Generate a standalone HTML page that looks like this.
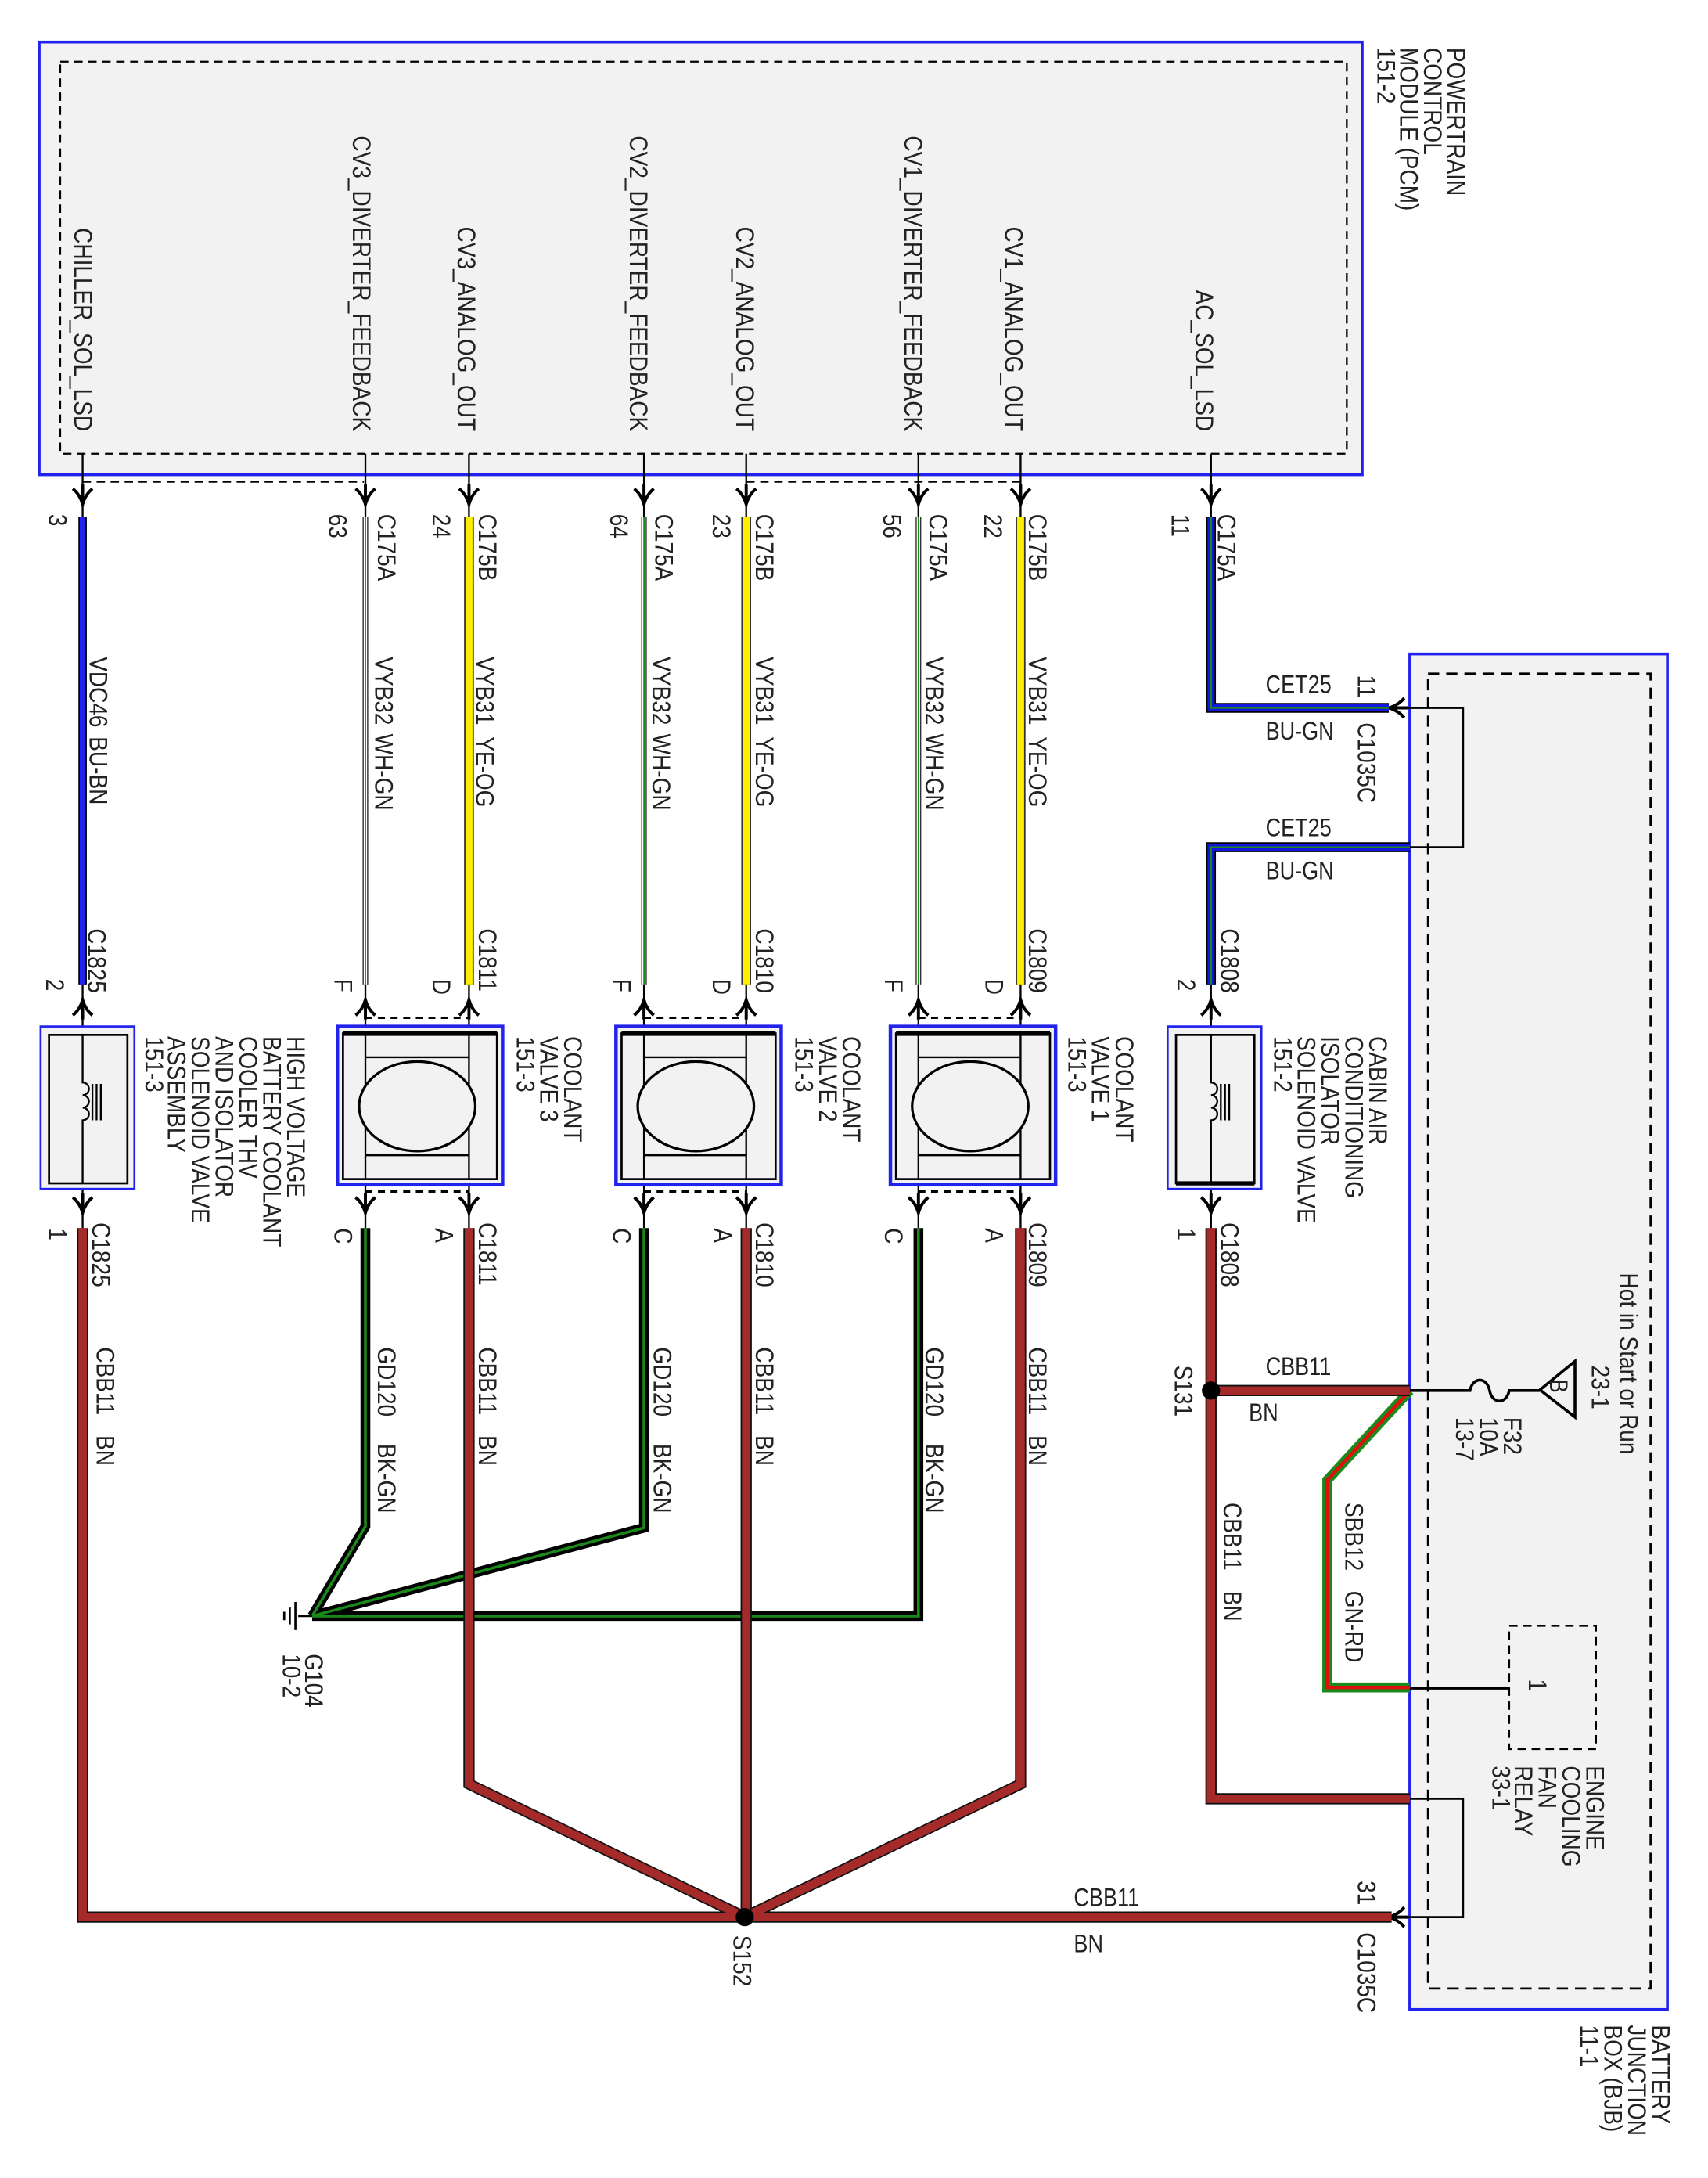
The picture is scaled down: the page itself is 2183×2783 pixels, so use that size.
<!DOCTYPE html>
<html><head><meta charset="utf-8"><style>
html,body{margin:0;padding:0;background:#fff}
svg{display:block}
text{font-family:"Liberation Sans",sans-serif;font-size:18px;fill:#222}
</style></head><body>
<svg width="2183" height="2783" viewBox="0 0 1220 1555.3" xmlns="http://www.w3.org/2000/svg">
<defs>
<g id="ad"><path d="M-7,-11 Q-2,-7 0,0 Q2,-7 7,-11 M0,-14 L0,0" fill="none" stroke="#000" stroke-width="2.2"/></g>
<g id="au"><path d="M-7,11 Q-2,7 0,0 Q2,7 7,11 M0,14 L0,0" fill="none" stroke="#000" stroke-width="2.2"/></g>
<g id="al"><path d="M11,-7 Q7,-2 0,0 Q7,2 11,7 M14,0 L0,0" fill="none" stroke="#000" stroke-width="2.2"/></g>
</defs>

<!-- PCM -->
<rect x="28" y="30" width="945" height="309" fill="#f2f2f2" stroke="#2222ee" stroke-width="2"/>
<rect x="43" y="44" width="919" height="280" fill="none" stroke="#000" stroke-width="1.3" stroke-dasharray="6,4"/>
<path d="M59,344 H260 M533,344 H729" stroke="#000" stroke-width="1.3" stroke-dasharray="6,4"/>
<!-- pin stubs -->
<g stroke="#000" stroke-width="1.3">
<path d="M59,324V369M261,324V369M335,324V369M460,324V369M533,324V369M656,324V369M729,324V369M865,324V369"/>
</g>
<use href="#ad" x="59" y="360"/><use href="#ad" x="261" y="360"/><use href="#ad" x="335" y="360"/>
<use href="#ad" x="460" y="360"/><use href="#ad" x="533" y="360"/><use href="#ad" x="656" y="360"/>
<use href="#ad" x="729" y="360"/><use href="#ad" x="865" y="360"/>

<!-- BJB -->
<rect x="1007" y="467" width="184" height="968" fill="#f2f2f2" stroke="#2222ee" stroke-width="2"/>
<rect x="1020" y="481" width="159" height="939" fill="none" stroke="#000" stroke-width="1.5" stroke-dasharray="8,5"/>
<path d="M992,505.5H1045V605H1007M992,1369H1045V1284.5H1007" fill="none" stroke="#000" stroke-width="1.5"/>
<use href="#al" x="992" y="505.5"/><use href="#al" x="992" y="1369"/>

<!-- top wires -->
<g fill="none">
<path d="M59,369V703" stroke="#000" stroke-width="6"/><path d="M59,369V703" stroke="#2222ee" stroke-width="4"/>
<path d="M261,369V703M460,369V703M656,369V703" stroke="#333" stroke-width="4"/>
<path d="M261,369V703M460,369V703M656,369V703" stroke="#fff" stroke-width="2.4"/>
<path d="M261,369V703M460,369V703M656,369V703" stroke="#1a8a1a" stroke-width="1"/>
<path d="M335,369V703M533,369V703M729,369V703" stroke="#333" stroke-width="7"/>
<path d="M335,369V703M533,369V703M729,369V703" stroke="#ffee00" stroke-width="5"/>
<path d="M865,369V505.5H992M1007,605H865V703" stroke="#000" stroke-width="7"/>
<path d="M865,369V505.5H992M1007,605H865V703" stroke="#1515e0" stroke-width="5"/>
<path d="M865,369V505.5H992M1007,605H865V703" stroke="#1a8a1a" stroke-width="1.2"/>
</g>

<!-- valve pin lines and arrows -->
<g stroke="#000" stroke-width="1.3">
<path d="M59,703V877M261,703V877M335,703V877M460,703V877M533,703V877M656,703V877M729,703V877M865,703V877"/>
</g>
<g>
<use href="#au" x="59" y="714"/><use href="#au" x="261" y="714"/><use href="#au" x="335" y="714"/>
<use href="#au" x="460" y="714"/><use href="#au" x="533" y="714"/><use href="#au" x="656" y="714"/>
<use href="#au" x="729" y="714"/><use href="#au" x="865" y="714"/>
<use href="#ad" x="59" y="866"/><use href="#ad" x="261" y="866"/><use href="#ad" x="335" y="866"/>
<use href="#ad" x="460" y="866"/><use href="#ad" x="533" y="866"/><use href="#ad" x="656" y="866"/>
<use href="#ad" x="729" y="866"/><use href="#ad" x="865" y="866"/>
</g>
<path d="M261,727H335M460,727H533M656,727H729" stroke="#000" stroke-width="1.3" stroke-dasharray="5,4"/>
<path d="M261,851H335M460,851H533M656,851H729" stroke="#000" stroke-width="2.5" stroke-dasharray="5,4"/>

<!-- solenoid boxes -->
<g>
<rect x="29" y="733" width="67" height="116" fill="#f2f2f2" stroke="#2222ee" stroke-width="1.5"/>
<rect x="35" y="739" width="56" height="106" fill="#f2f2f2" stroke="#000" stroke-width="1.5"/>
<path d="M59,739V773a4.5,4.5 0 0 1 0,9a4.5,4.5 0 0 1 0,9a4.5,4.5 0 0 1 0,9V845M66,774V800M69,774V800M72,774V800" fill="none" stroke="#000" stroke-width="1.3"/>
<rect x="834" y="733" width="67" height="116" fill="#f2f2f2" stroke="#2222ee" stroke-width="1.5"/>
<rect x="840" y="739" width="56" height="106" fill="#f2f2f2" stroke="#000" stroke-width="1.5"/>
<path d="M840,845H896" stroke="#000" stroke-width="3"/>
<path d="M865,739V773a4.5,4.5 0 0 1 0,9a4.5,4.5 0 0 1 0,9a4.5,4.5 0 0 1 0,9V845M872,774V800M875,774V800M878,774V800" fill="none" stroke="#000" stroke-width="1.3"/>
</g>
<!-- coolant valves -->
<g id="v3">
<rect x="241" y="733" width="118" height="113" fill="#f2f2f2" stroke="#2222ee" stroke-width="2.5"/>
<rect x="245" y="738" width="110" height="104" fill="#f2f2f2" stroke="#000" stroke-width="1.5"/>
<path d="M245,738H355" stroke="#000" stroke-width="3.5"/>
<path d="M261,755H335M261,825H335M261,738V842M335,738V842" stroke="#000" stroke-width="1.3"/>
<ellipse cx="298" cy="790" rx="41.5" ry="32" fill="#f2f2f2" stroke="#000" stroke-width="1.8"/>
</g>
<g transform="translate(199,0)">
<rect x="241" y="733" width="118" height="113" fill="#f2f2f2" stroke="#2222ee" stroke-width="2.5"/>
<rect x="245" y="738" width="110" height="104" fill="#f2f2f2" stroke="#000" stroke-width="1.5"/>
<path d="M245,738H355" stroke="#000" stroke-width="3.5"/>
<path d="M261,755H334M261,825H334M261,738V842M334,738V842" stroke="#000" stroke-width="1.3"/>
<ellipse cx="298" cy="790" rx="41.5" ry="32" fill="#f2f2f2" stroke="#000" stroke-width="1.8"/>
</g>
<g transform="translate(395,0)">
<rect x="241" y="733" width="118" height="113" fill="#f2f2f2" stroke="#2222ee" stroke-width="2.5"/>
<rect x="245" y="738" width="110" height="104" fill="#f2f2f2" stroke="#000" stroke-width="1.5"/>
<path d="M245,738H355" stroke="#000" stroke-width="3.5"/>
<path d="M261,755H334M261,825H334M261,738V842M334,738V842" stroke="#000" stroke-width="1.3"/>
<ellipse cx="298" cy="790" rx="41.5" ry="32" fill="#f2f2f2" stroke="#000" stroke-width="1.8"/>
</g>

<!-- bottom wires -->
<g fill="none" stroke-linejoin="miter">
<path d="M261,877V1090L223,1154M460,877V1091L223,1154M656,877V1154H223" stroke="#000" stroke-width="7"/>
<path d="M261,877V1090L223,1154M460,877V1091L223,1154M656,877V1154H223" stroke="#1a8a1a" stroke-width="2"/>
<path d="M1007,993L948,1057V1205H1007" stroke="#1a8a1a" stroke-width="7"/>
<path d="M1007,993L948,1057V1205H1007" stroke="#e01010" stroke-width="2.5"/>
<path d="M59,877V1369H994M335,877V1274L532,1369L729,1274V877M533,877V1369M865,877V1284.5H1007M865,993H1007" stroke="#111" stroke-width="8"/>
<path d="M59,877V1369H994M335,877V1274L532,1369L729,1274V877M533,877V1369M865,877V1284.5H1007M865,993H1007" stroke="#a52a2a" stroke-width="6"/>
</g>
<circle cx="532" cy="1369" r="6.5" fill="#000"/>
<circle cx="865" cy="993" r="6.5" fill="#000"/>
<!-- ground -->
<path d="M223,1154H213M211,1144V1164M207,1148V1160M203,1151V1157" stroke="#000" stroke-width="1.5"/>
<!-- fuse & power -->
<path d="M1007,993H1050c2,-10 12,-10 14,0c2,10 12,10 14,0H1100" fill="none" stroke="#000" stroke-width="2"/>
<path d="M1100,992.5L1125,972V1012Z" fill="none" stroke="#000" stroke-width="2"/>
<path d="M1007,1205.5H1078" stroke="#000" stroke-width="2"/>
<rect x="1078" y="1161" width="62" height="88" fill="none" stroke="#000" stroke-width="1.3" stroke-dasharray="6,4"/>

<!-- rotated labels -->
<g>
<text transform="translate(1034,34) rotate(90) scale(.87 1)">POWERTRAIN</text>
<text transform="translate(1017,34) rotate(90) scale(.87 1)">CONTROL</text>
<text transform="translate(1000,34) rotate(90) scale(.87 1)">MODULE (PCM)</text>
<text transform="translate(984,34) rotate(90) scale(.87 1)">151-2</text>

<g text-anchor="end">
<text transform="translate(53,308) rotate(90) scale(.87 1)">CHILLER_SOL_LSD</text>
<text transform="translate(252,308) rotate(90) scale(.87 1)">CV3_DIVERTER_FEEDBACK</text>
<text transform="translate(327,308) rotate(90) scale(.87 1)">CV3_ANALOG_OUT</text>
<text transform="translate(450,308) rotate(90) scale(.87 1)">CV2_DIVERTER_FEEDBACK</text>
<text transform="translate(526,308) rotate(90) scale(.87 1)">CV2_ANALOG_OUT</text>
<text transform="translate(646,308) rotate(90) scale(.87 1)">CV1_DIVERTER_FEEDBACK</text>
<text transform="translate(718,308) rotate(90) scale(.87 1)">CV1_ANALOG_OUT</text>
<text transform="translate(854,308) rotate(90) scale(.87 1)">AC_SOL_LSD</text>
</g>

<text transform="translate(35,367) rotate(90) scale(.87 1)">3</text>
<text transform="translate(235,367) rotate(90) scale(.87 1)">63</text>
<text transform="translate(270,367) rotate(90) scale(.87 1)">C175A</text>
<text transform="translate(309,367) rotate(90) scale(.87 1)">24</text>
<text transform="translate(342,367) rotate(90) scale(.87 1)">C175B</text>
<text transform="translate(436,367) rotate(90) scale(.87 1)">64</text>
<text transform="translate(468,367) rotate(90) scale(.87 1)">C175A</text>
<text transform="translate(509,367) rotate(90) scale(.87 1)">23</text>
<text transform="translate(540,367) rotate(90) scale(.87 1)">C175B</text>
<text transform="translate(631,367) rotate(90) scale(.87 1)">56</text>
<text transform="translate(664,367) rotate(90) scale(.87 1)">C175A</text>
<text transform="translate(703,367) rotate(90) scale(.87 1)">22</text>
<text transform="translate(735,367) rotate(90) scale(.87 1)">C175B</text>
<text transform="translate(837,367) rotate(90) scale(.87 1)">11</text>
<text transform="translate(870,367) rotate(90) scale(.87 1)">C175A</text>

<text transform="translate(64,469) rotate(90) scale(.87 1)">VDC46</text>
<text transform="translate(64,526) rotate(90) scale(.87 1)">BU-BN</text>
<text transform="translate(268,469) rotate(90) scale(.87 1)">VYB32</text>
<text transform="translate(268,524) rotate(90) scale(.87 1)">WH-GN</text>
<text transform="translate(340,469) rotate(90) scale(.87 1)">VYB31</text>
<text transform="translate(340,526) rotate(90) scale(.87 1)">YE-OG</text>
<text transform="translate(466,469) rotate(90) scale(.87 1)">VYB32</text>
<text transform="translate(466,524) rotate(90) scale(.87 1)">WH-GN</text>
<text transform="translate(540,469) rotate(90) scale(.87 1)">VYB31</text>
<text transform="translate(540,526) rotate(90) scale(.87 1)">YE-OG</text>
<text transform="translate(661,469) rotate(90) scale(.87 1)">VYB32</text>
<text transform="translate(661,524) rotate(90) scale(.87 1)">WH-GN</text>
<text transform="translate(735,469) rotate(90) scale(.87 1)">VYB31</text>
<text transform="translate(735,526) rotate(90) scale(.87 1)">YE-OG</text>

<text transform="translate(970,482) rotate(90) scale(.87 1)">11</text>
<text transform="translate(970,516) rotate(90) scale(.87 1)">C1035C</text>

<text transform="translate(33,699) rotate(90) scale(.87 1)">2</text>
<text transform="translate(63,663) rotate(90) scale(.87 1)">C1825</text>
<text transform="translate(239,699) rotate(90) scale(.87 1)">F</text>
<text transform="translate(309,699) rotate(90) scale(.87 1)">D</text>
<text transform="translate(342,663) rotate(90) scale(.87 1)">C1811</text>
<text transform="translate(438,699) rotate(90) scale(.87 1)">F</text>
<text transform="translate(509,699) rotate(90) scale(.87 1)">D</text>
<text transform="translate(540,663) rotate(90) scale(.87 1)">C1810</text>
<text transform="translate(632,699) rotate(90) scale(.87 1)">F</text>
<text transform="translate(704,699) rotate(90) scale(.87 1)">D</text>
<text transform="translate(735,663) rotate(90) scale(.87 1)">C1809</text>
<text transform="translate(841,699) rotate(90) scale(.87 1)">2</text>
<text transform="translate(872,663) rotate(90) scale(.87 1)">C1808</text>

<text transform="translate(205,740) rotate(90) scale(.87 1)">HIGH VOLTAGE</text>
<text transform="translate(188,740) rotate(90) scale(.87 1)">BATTERY COOLANT</text>
<text transform="translate(171,740) rotate(90) scale(.87 1)">COOLER THV</text>
<text transform="translate(154,740) rotate(90) scale(.87 1)">AND ISOLATOR</text>
<text transform="translate(137,740) rotate(90) scale(.87 1)">SOLENOID VALVE</text>
<text transform="translate(120,740) rotate(90) scale(.87 1)">ASSEMBLY</text>
<text transform="translate(104,740) rotate(90) scale(.87 1)">151-3</text>

<text transform="translate(403,740) rotate(90) scale(.87 1)">COOLANT</text>
<text transform="translate(386,740) rotate(90) scale(.87 1)">VALVE 3</text>
<text transform="translate(369,740) rotate(90) scale(.87 1)">151-3</text>
<text transform="translate(602,740) rotate(90) scale(.87 1)">COOLANT</text>
<text transform="translate(585,740) rotate(90) scale(.87 1)">VALVE 2</text>
<text transform="translate(568,740) rotate(90) scale(.87 1)">151-3</text>
<text transform="translate(797,740) rotate(90) scale(.87 1)">COOLANT</text>
<text transform="translate(780,740) rotate(90) scale(.87 1)">VALVE 1</text>
<text transform="translate(763,740) rotate(90) scale(.87 1)">151-3</text>

<text transform="translate(978,740) rotate(90) scale(.87 1)">CABIN AIR</text>
<text transform="translate(961,740) rotate(90) scale(.87 1)">CONDITIONING</text>
<text transform="translate(944,740) rotate(90) scale(.87 1)">ISOLATOR</text>
<text transform="translate(927,740) rotate(90) scale(.87 1)">SOLENOID VALVE</text>
<text transform="translate(910,740) rotate(90) scale(.87 1)">151-2</text>

<text transform="translate(35,877) rotate(90) scale(.87 1)">1</text>
<text transform="translate(66,873) rotate(90) scale(.87 1)">C1825</text>
<text transform="translate(239,877) rotate(90) scale(.87 1)">C</text>
<text transform="translate(311,877) rotate(90) scale(.87 1)">A</text>
<text transform="translate(342,873) rotate(90) scale(.87 1)">C1811</text>
<text transform="translate(438,877) rotate(90) scale(.87 1)">C</text>
<text transform="translate(510,877) rotate(90) scale(.87 1)">A</text>
<text transform="translate(540,873) rotate(90) scale(.87 1)">C1810</text>
<text transform="translate(632,877) rotate(90) scale(.87 1)">C</text>
<text transform="translate(704,877) rotate(90) scale(.87 1)">A</text>
<text transform="translate(735,873) rotate(90) scale(.87 1)">C1809</text>
<text transform="translate(841,877) rotate(90) scale(.87 1)">1</text>
<text transform="translate(872,873) rotate(90) scale(.87 1)">C1808</text>

<text transform="translate(69,962) rotate(90) scale(.87 1)">CBB11</text>
<text transform="translate(69,1025) rotate(90) scale(.87 1)">BN</text>
<text transform="translate(270,962) rotate(90) scale(.87 1)">GD120</text>
<text transform="translate(270,1031) rotate(90) scale(.87 1)">BK-GN</text>
<text transform="translate(342,962) rotate(90) scale(.87 1)">CBB11</text>
<text transform="translate(342,1025) rotate(90) scale(.87 1)">BN</text>
<text transform="translate(467,962) rotate(90) scale(.87 1)">GD120</text>
<text transform="translate(467,1031) rotate(90) scale(.87 1)">BK-GN</text>
<text transform="translate(540,962) rotate(90) scale(.87 1)">CBB11</text>
<text transform="translate(540,1025) rotate(90) scale(.87 1)">BN</text>
<text transform="translate(661,962) rotate(90) scale(.87 1)">GD120</text>
<text transform="translate(661,1031) rotate(90) scale(.87 1)">BK-GN</text>
<text transform="translate(735,962) rotate(90) scale(.87 1)">CBB11</text>
<text transform="translate(735,1025) rotate(90) scale(.87 1)">BN</text>

<text transform="translate(839,975) rotate(90) scale(.87 1)">S131</text>
<text transform="translate(874,1073) rotate(90) scale(.87 1)">CBB11</text>
<text transform="translate(874,1136) rotate(90) scale(.87 1)">BN</text>
<text transform="translate(961,1073) rotate(90) scale(.87 1)">SBB12</text>
<text transform="translate(961,1136) rotate(90) scale(.87 1)">GN-RD</text>

<text transform="translate(1157,909) rotate(90) scale(.87 1)">Hot in Start or Run</text>
<text transform="translate(1137,975) rotate(90) scale(.87 1)">23-1</text>
<text transform="translate(1107,985) rotate(90) scale(.8 1)" font-size="15">B</text>
<text transform="translate(1074,1012) rotate(90) scale(.87 1)">F32</text>
<text transform="translate(1057,1012) rotate(90) scale(.87 1)">10A</text>
<text transform="translate(1040,1012) rotate(90) scale(.87 1)">13-7</text>
<text transform="translate(1092,1199) rotate(90) scale(.87 1)">1</text>

<text transform="translate(1133,1261) rotate(90) scale(.87 1)">ENGINE</text>
<text transform="translate(1116,1261) rotate(90) scale(.87 1)">COOLING</text>
<text transform="translate(1099,1261) rotate(90) scale(.87 1)">FAN</text>
<text transform="translate(1082,1261) rotate(90) scale(.87 1)">RELAY</text>
<text transform="translate(1066,1261) rotate(90) scale(.87 1)">33-1</text>

<text transform="translate(218,1181) rotate(90) scale(.87 1)">G104</text>
<text transform="translate(202,1181) rotate(90) scale(.87 1)">10-2</text>
<text transform="translate(524,1382) rotate(90) scale(.87 1)">S152</text>
<text transform="translate(970,1343) rotate(90) scale(.87 1)">31</text>
<text transform="translate(970,1380) rotate(90) scale(.87 1)">C1035C</text>

<text transform="translate(1180,1446) rotate(90) scale(.87 1)">BATTERY</text>
<text transform="translate(1163,1446) rotate(90) scale(.87 1)">JUNCTION</text>
<text transform="translate(1146,1446) rotate(90) scale(.87 1)">BOX (BJB)</text>
<text transform="translate(1129,1446) rotate(90) scale(.87 1)">11-1</text>
</g>

<!-- horizontal labels -->
<g>
<text transform="translate(904,495) scale(.84 1)">CET25</text>
<text transform="translate(904,528) scale(.84 1)">BU-GN</text>
<text transform="translate(904,597) scale(.84 1)">CET25</text>
<text transform="translate(904,628) scale(.84 1)">BU-GN</text>
<text transform="translate(904,982) scale(.84 1)">CBB11</text>
<text transform="translate(892,1015) scale(.84 1)">BN</text>
<text transform="translate(767,1361) scale(.84 1)">CBB11</text>
<text transform="translate(767,1394) scale(.84 1)">BN</text>
</g>
</svg>
</body></html>
